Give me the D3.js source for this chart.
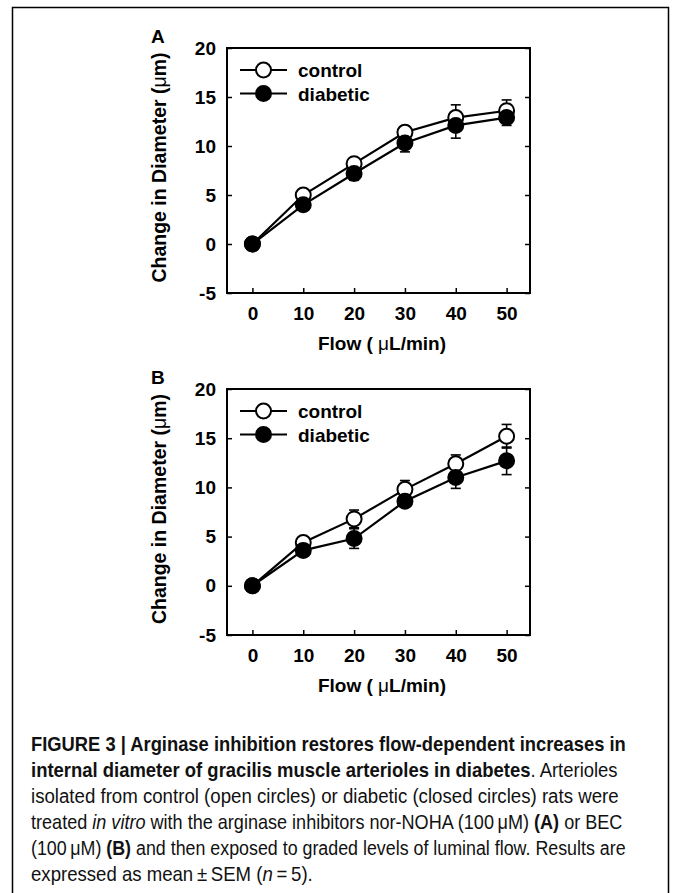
<!DOCTYPE html>
<html lang="en">
<head>
    <meta charset="UTF-8">
    <title>Figure 3</title>
    <style>
        body { margin: 0; background: #fff; }
        svg text { font-family: "Liberation Sans", Arial, sans-serif; }
    </style>
</head>
<body>
<script src="https://d3js.org/d3.v7.min.js"></script>
<script>
    // data
    var flow = [0, 10, 20, 30, 40, 50];
    var yTicks = [-5, 0, 5, 10, 15, 20];
    var seriesNames = ['control', 'diabetic'];

    var ctrlA = [0, 5.0, 8.2, 11.4, 12.9, 13.6],
        ctrlSemA = [0, 0.3, 0.4, 0.6, 1.3, 1.1],
        diabA = [0, 4.0, 7.2, 10.3, 12.1, 12.9],
        diabSemA = [0, 0.3, 0.7, 0.9, 1.3, 0.8];

    var ctrlB = [0, 4.4, 6.8, 9.8, 12.4, 15.2],
        ctrlSemB = [0, 0.3, 0.9, 0.9, 0.9, 1.2],
        diabB = [0, 3.6, 4.8, 8.6, 11.0, 12.7],
        diabSemB = [0, 0.3, 1.0, 0.6, 1.1, 1.4];

    var width = 673, height = 893;

    var svg = d3.select('body').append('svg')
                .attr('width', width)
                .attr('height', height);

    // outer figure box (open at the bottom)
    svg.append('path')
       .attr('d', 'M12.5,' + height + 'V7.5H668.5V' + height)
       .attr('fill', 'none')
       .attr('stroke', '#000')
       .attr('stroke-width', 1.5);

    function drawPanel(label, top, bottom, ctrl, ctrlSem, diab, diabSem) {
        var left = 227, right = 530;
        var x = d3.scaleLinear().domain([-5, 54.6]).range([left, right]);
        var y = d3.scaleLinear().domain([-5, 20]).range([bottom, top]);
        var g = svg.append('g');

        var plain = function(d) { return String(d); };
        var yAxis = d3.axisLeft(y).tickValues(yTicks).tickSize(-5).tickPadding(11).tickFormat(plain);
        var yAxisR = d3.axisRight(y).tickValues(yTicks).tickSize(-5).tickFormat('');
        var xAxis = d3.axisBottom(x).tickValues(flow).tickSize(-5).tickPadding(14).tickFormat(plain);

        g.append('g').attr('transform', 'translate(' + left + ',0)').call(yAxis);
        g.append('g').attr('transform', 'translate(' + right + ',0)').call(yAxisR);
        g.append('g').attr('transform', 'translate(0,' + bottom + ')').call(xAxis);

        g.selectAll('.domain').remove();
        g.selectAll('.tick line').attr('stroke', '#000').attr('stroke-width', 1.5);
        g.selectAll('.tick text')
         .attr('fill', '#000')
         .style('font-size', '19px')
         .style('font-weight', 'bold')
         .style('font-family', '"Liberation Sans", Arial, sans-serif');

        g.append('rect')
         .attr('x', left).attr('y', top)
         .attr('width', right - left).attr('height', bottom - top)
         .attr('fill', 'none').attr('stroke', '#000').attr('stroke-width', 2);

        // panel letter
        g.append('text')
         .attr('x', 151).attr('y', top - 5)
         .style('font-size', '19px').style('font-weight', 'bold')
         .text(label);

        // axis titles
        var yt = g.append('text')
                  .attr('transform', 'translate(166,' + ((top + bottom) / 2 - 3) + ') rotate(-90)')
                  .attr('text-anchor', 'middle')
                  .style('font-size', '19.5px').style('font-weight', 'bold');
        yt.append('tspan').text('Change in Diameter (');
        yt.append('tspan').style('font-weight', 'normal').text('\u03bc');
        yt.append('tspan').text('m)');

        var xt = g.append('text')
                  .attr('x', 382).attr('y', bottom + 57)
                  .attr('text-anchor', 'middle')
                  .style('font-size', '19px').style('font-weight', 'bold');
        xt.append('tspan').text('Flow ( ');
        xt.append('tspan').style('font-weight', 'normal').text('\u03bc');
        xt.append('tspan').text('L/min)');

        var line = d3.line()
                     .x(function(d, i) { return x(flow[i]); })
                     .y(function(d) { return y(d); });

        var sets = [
            {vals: ctrl, sem: ctrlSem, fill: '#fff'},
            {vals: diab, sem: diabSem, fill: '#000'}
        ];

        sets.forEach(function(s) {
            g.append('path')
             .datum(s.vals)
             .attr('d', line)
             .attr('fill', 'none')
             .attr('stroke', '#000')
             .attr('stroke-width', 2.2);
        });

        sets.forEach(function(s) {
            var eb = g.append('g').attr('stroke', '#000').attr('stroke-width', 1.6);
            s.vals.forEach(function(v, i) {
                if (!s.sem[i]) return;
                var cx = x(flow[i]);
                eb.append('line')
                  .attr('x1', cx).attr('x2', cx)
                  .attr('y1', y(v - s.sem[i])).attr('y2', y(v + s.sem[i]));
                [v - s.sem[i], v + s.sem[i]].forEach(function(e) {
                    eb.append('line')
                      .attr('x1', cx - 5).attr('x2', cx + 5)
                      .attr('y1', y(e)).attr('y2', y(e));
                });
            });
        });

        sets.forEach(function(s) {
            g.append('g').selectAll('circle')
             .data(s.vals)
             .enter().append('circle')
             .attr('cx', function(d, i) { return x(flow[i]); })
             .attr('cy', function(d) { return y(d); })
             .attr('r', 7.5)
             .attr('fill', s.fill)
             .attr('stroke', '#000')
             .attr('stroke-width', 2);
        });

        // legend
        sets.forEach(function(s, i) {
            var ly = top + 22 + i * 23.5;
            g.append('line')
             .attr('x1', 240).attr('x2', 287)
             .attr('y1', ly).attr('y2', ly)
             .attr('stroke', '#000').attr('stroke-width', 2.2);
            g.append('circle')
             .attr('cx', 263.5).attr('cy', ly).attr('r', 7.5)
             .attr('fill', s.fill).attr('stroke', '#000').attr('stroke-width', 2);
            g.append('text')
             .attr('x', 298).attr('y', ly + 7)
             .style('font-size', '19px').style('font-weight', 'bold')
             .text(seriesNames[i]);
        });
    }

    drawPanel('A', 48, 293, ctrlA, ctrlSemA, diabA, diabSemA);
    drawPanel('B', 389, 635, ctrlB, ctrlSemB, diabB, diabSemB);

    // caption, each line is a list of [text, style] pieces
    var caption = [
        [['FIGURE 3 | Arginase inhibition restores flow-dependent increases in', 'b']],
        [['internal diameter of gracilis muscle arterioles in diabetes', 'b'], ['. Arterioles', '']],
        [['isolated from control (open circles) or diabetic (closed circles) rats were', '']],
        [['treated ', ''], ['in vitro', 'i'], [' with the arginase inhibitors nor-NOHA (100\u2009\u03bcM) ', ''], ['(A)', 'b'], [' or BEC', '']],
        [['(100\u2009\u03bcM) ', ''], ['(B)', 'b'], [' and then exposed to graded levels of luminal flow. Results are', '']],
        [['expressed as mean\u2009\u00b1\u2009SEM (', ''], ['n', 'i'], ['\u2009=\u20095).', '']]
    ];
    var lineEnds = [626, 618, 619, 623, 626, 313];

    caption.forEach(function(parts, i) {
        var t = svg.append('text')
                   .style('font-size', '20px')
                   .attr('fill', '#111');
        parts.forEach(function(p) {
            t.append('tspan')
             .style('font-weight', p[1] === 'b' ? 'bold' : 'normal')
             .style('font-style', p[1] === 'i' ? 'italic' : 'normal')
             .text(p[0]);
        });
        var w = t.node().getComputedTextLength();
        var sx = (lineEnds[i] - 31) / w;
        t.attr('transform', 'translate(31,' + (751 + i * 26) + ') scale(' + sx + ',1)');
    });
</script>
</body>
</html>
